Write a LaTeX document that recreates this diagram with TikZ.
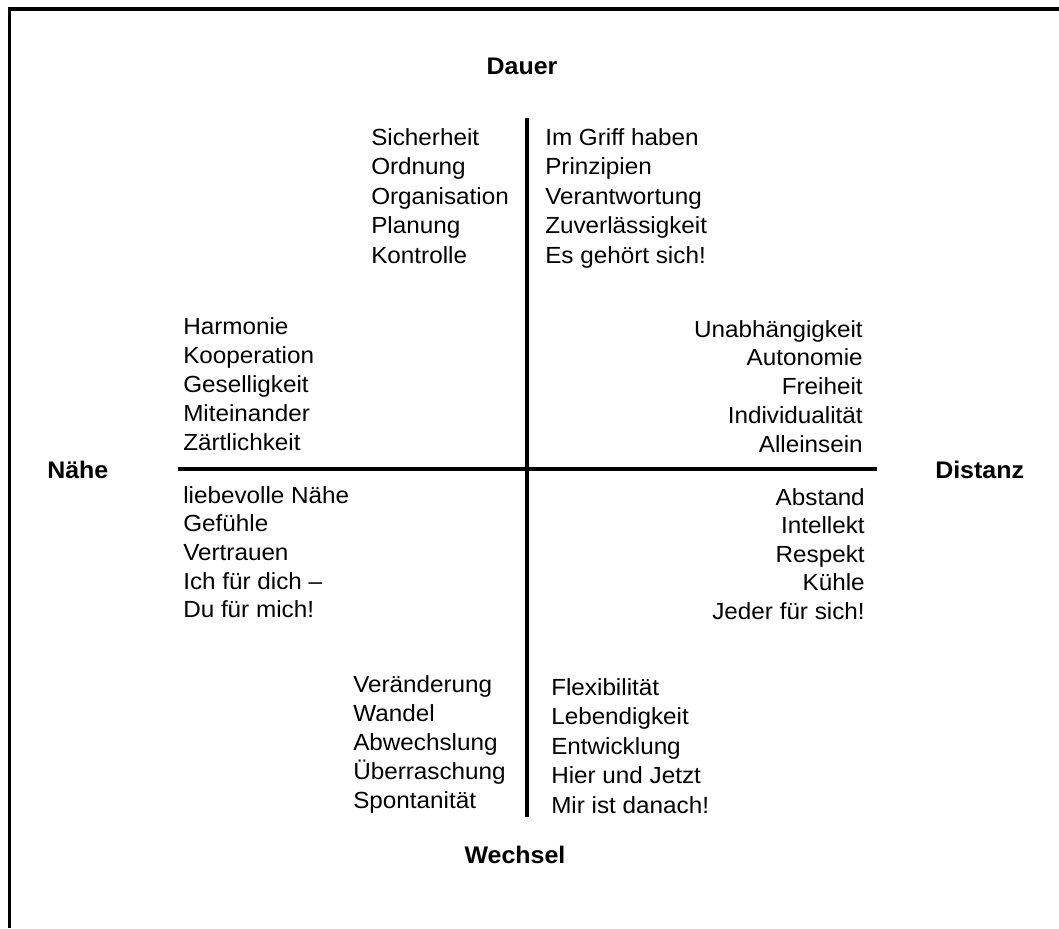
\documentclass[tikz,border=0pt]{standalone}
\usepackage{fontspec}
\setmainfont{Liberation Sans}[FakeStretch=1.04]
\begin{document}
\begin{tikzpicture}[x=0.75pt,y=-0.75pt,
  word/.style={inner sep=0pt,font=\fontsize{17.5}{20}\selectfont},
  lw/.style={word,anchor=base west},
  rw/.style={word,anchor=base east},
  axislabel/.style={inner sep=0pt,anchor=base,font=\fontsize{18}{20}\selectfont\bfseries},
  axis/.style={line width=2.3pt},
  frame/.style={line width=2.3pt}]
\useasboundingbox (0,0) rectangle (1059,928);
% frame (top and left only visible)
\coordinate (f0) at (9.5,9);
\coordinate (f1) at (1059,9);
\coordinate (f2) at (9.5,928);
\draw[frame] (f1) -- (f0) -- (f2);
% axes
\coordinate (vt) at (527,118);
\coordinate (vb) at (527,817);
\coordinate (hl) at (178,469);
\coordinate (hr) at (877,469);
\draw[axis] (vt) -- (vb);
\draw[axis] (hl) -- (hr);
% axis labels
\node[axislabel] (dauer) at (522,74) {Dauer};
\node[axislabel,anchor=base west] (naehe) at (47,478) {Nähe};
\node[axislabel,anchor=base west] (distanz) at (935,478) {Distanz};
\node[axislabel] (wechsel) at (515,863) {Wechsel};
% top left
\foreach \t [count=\i] in {Sicherheit,Ordnung,Organisation,Planung,Kontrolle}
  \node[lw] (tl\i) at (371,{145+29.5*(\i-1)}) {\t};
% top right
\foreach \t [count=\i] in {Im Griff haben,Prinzipien,Verantwortung,Zuverlässigkeit,Es gehört sich!}
  \node[lw] (tr\i) at (545,{145+29.5*(\i-1)}) {\t};
% upper left
\foreach \t [count=\i] in {Harmonie,Kooperation,Geselligkeit,Miteinander,Zärtlichkeit}
  \node[lw] (ul\i) at (183,{334+29.2*(\i-1)}) {\t};
% upper right
\foreach \t [count=\i] in {Unabhängigkeit,Autonomie,Freiheit,Individualität,Alleinsein}
  \node[rw] (ur\i) at (863,{337+28.8*(\i-1)}) {\t};
% lower left
\foreach \t [count=\i] in {liebevolle Nähe,Gefühle,Vertrauen,Ich für dich –,Du für mich!}
  \node[lw] (ll\i) at (183,{503+28.7*(\i-1)}) {\t};
% lower right
\foreach \t [count=\i] in {Abstand,Intellekt,Respekt,Kühle,Jeder für sich!}
  \node[rw] (lr\i) at (865,{505+28.5*(\i-1)}) {\t};
% bottom left
\foreach \t [count=\i] in {Veränderung,Wandel,Abwechslung,Überraschung,Spontanität}
  \node[lw] (bl\i) at (353,{692+29*(\i-1)}) {\t};
% bottom right
\foreach \t [count=\i] in {Flexibilität,Lebendigkeit,Entwicklung,Hier und Jetzt,Mir ist danach!}
  \node[lw] (br\i) at (551,{695+29.5*(\i-1)}) {\t};
\end{tikzpicture}
\end{document}
